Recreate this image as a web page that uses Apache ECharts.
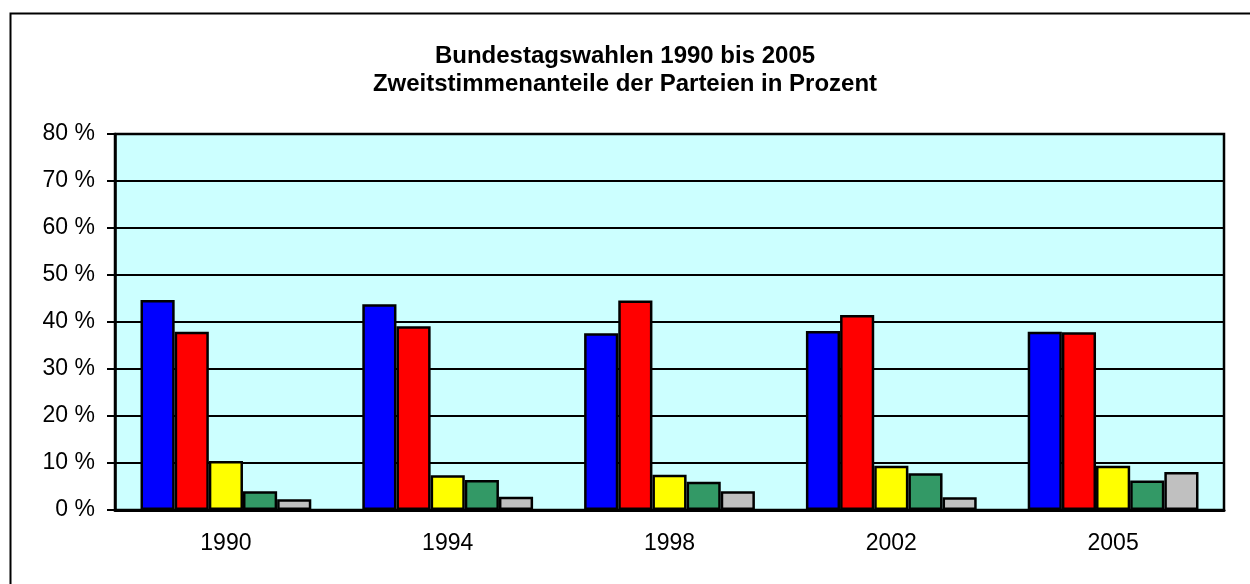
<!DOCTYPE html>
<html>
<head>
<meta charset="utf-8">
<script src="https://cdn.jsdelivr.net/npm/echarts@6/dist/echarts.min.js"></script>
<style>
  html, body { margin: 0; padding: 0; background: #fff; }
  #chart { width: 1250px; height: 584px; }
</style>
</head>
<body>
<div id="chart"></div>
<script>
// Werte (Prozent der Zweitstimmen)
const years = ["1990", "1994", "1998", "2002", "2005"];
const partyNames = ["CDU/CSU", "SPD", "FDP", "Grüne", "PDS"];
const partyColors = ["#0000FF", "#FF0000", "#FFFF00", "#339966", "#C0C0C0"];
const blueVals = [44.7, 43.8, 37.6, 38.1, 37.9];
const redVals = [37.9, 39.1, 44.6, 41.5, 37.8];
const yellowVals = [10.4, 7.4, 7.5, 9.4, 9.4];
const greenVals = [4.0, 6.4, 6.0, 7.8, 6.3];
const grayVals = [2.3, 2.8, 4.0, 2.7, 8.1];
const yTicks = { min: 0, max: 80, step: 10 };

const seriesData = [blueVals, redVals, yellowVals, greenVals, grayVals];
const font = "Liberation Sans, Arial, sans-serif";

const chart = echarts.init(document.getElementById("chart"), null, { renderer: "canvas" });
chart.setOption({
  animation: false,
  backgroundColor: "#fff",
  title: {
    text: "Bundestagswahlen 1990 bis 2005\nZweitstimmenanteile der Parteien in Prozent",
    left: "center",
    top: 37,
    textStyle: { fontFamily: font, fontSize: 24, fontWeight: "bold", color: "#000", lineHeight: 28 }
  },
  graphic: [{
    type: "rect",
    left: 8, top: 11,
    shape: { width: 1300, height: 700 },
    style: { fill: "none", stroke: "#000", lineWidth: 2 }
  }],
  grid: {
    left: 115, top: 134, right: 26, bottom: 74,
    show: true,
    backgroundColor: "#CCFFFF",
    borderColor: "#000",
    borderWidth: 2.5
  },
  xAxis: {
    type: "category",
    data: years,
    axisLine: { lineStyle: { color: "#000", width: 3 } },
    axisTick: { show: false },
    axisLabel: { color: "#000", fontFamily: font, fontSize: 23, margin: 22 }
  },
  yAxis: {
    type: "value",
    min: yTicks.min, max: yTicks.max, interval: yTicks.step,
    axisLine: { show: true, lineStyle: { color: "#000", width: 2.5 } },
    axisTick: { show: true, length: 8, lineStyle: { color: "#000", width: 2 } },
    axisLabel: { color: "#000", fontFamily: font, fontSize: 23, margin: 20, formatter: "{value} %" },
    splitLine: { lineStyle: { color: "#000", width: 2 } }
  },
  series: seriesData.map((vals, i) => ({
    name: partyNames[i],
    type: "bar",
    data: vals,
    barGap: "0%",
    barCategoryGap: "23%",
    itemStyle: { color: partyColors[i], borderColor: "#000", borderWidth: 2.5 }
  }))
});
</script>
</body>
</html>
